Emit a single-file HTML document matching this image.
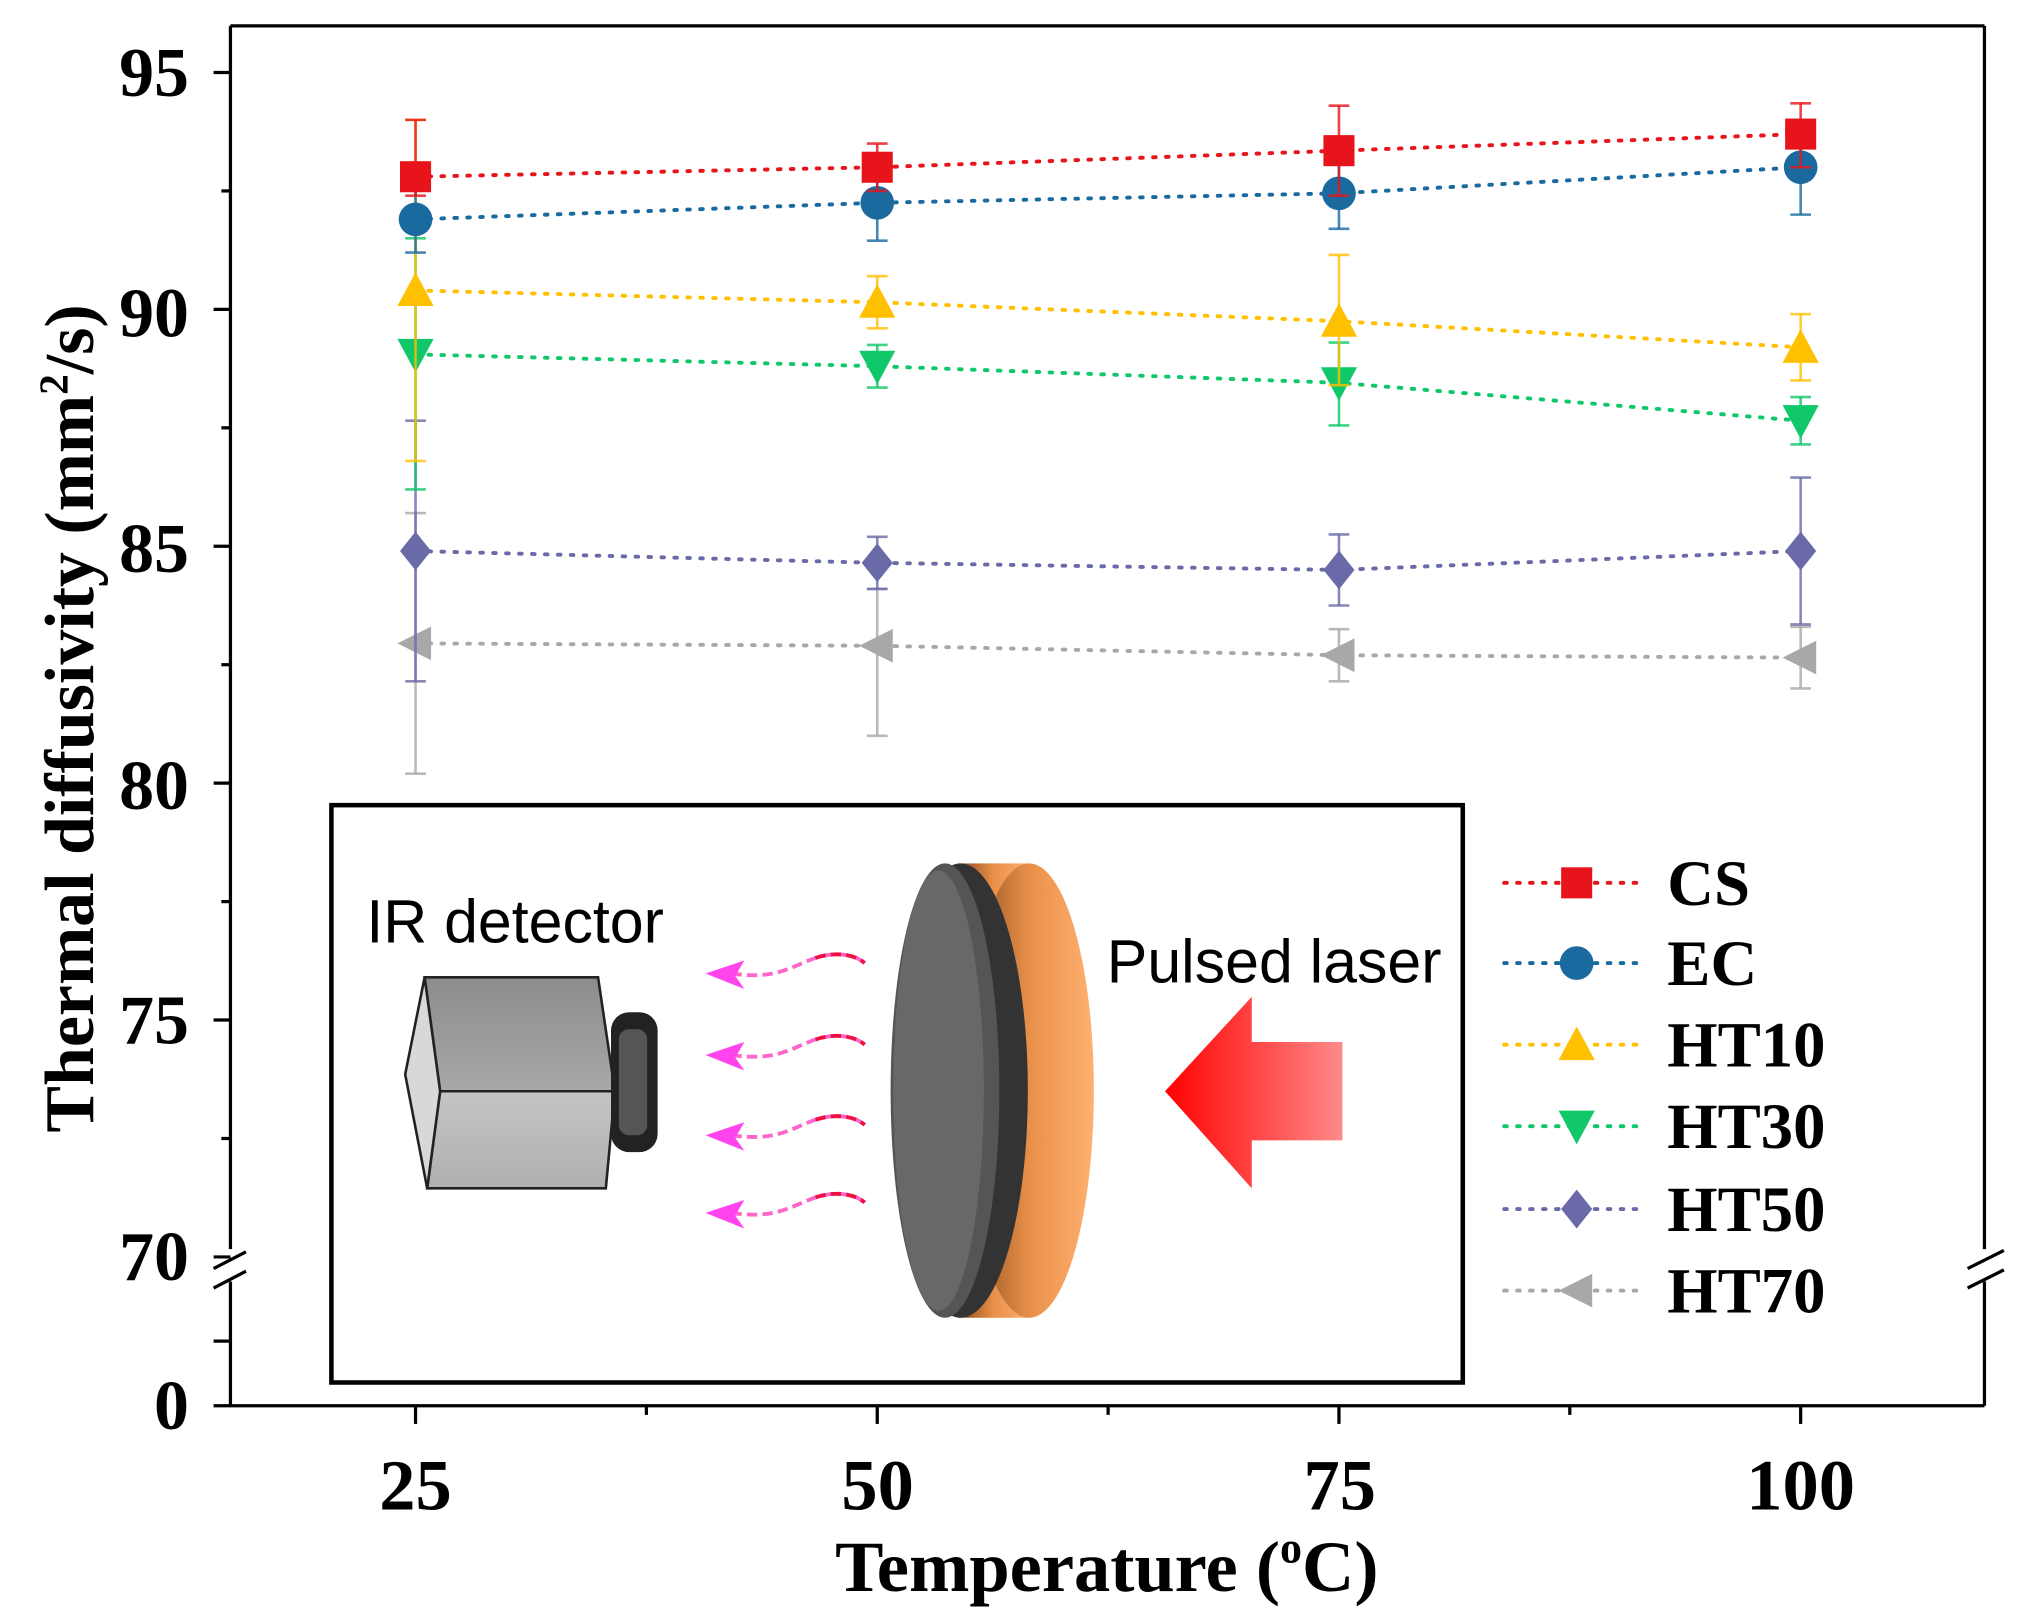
<!DOCTYPE html>
<html><head><meta charset="utf-8"><style>
html,body{margin:0;padding:0;background:#fff;width:2022px;height:1619px;overflow:hidden}
svg text{font-family:"Liberation Serif",serif;font-weight:bold}
</style></head><body>
<svg id="s" width="2022" height="1619" viewBox="0 0 1562 1250.7" xmlns="http://www.w3.org/2000/svg">
<defs>
<linearGradient id="arr" x1="0" x2="1" y1="0" y2="0"><stop offset="0" stop-color="#ff0000"/><stop offset="1" stop-color="#ff8a8a"/></linearGradient>
<linearGradient id="rim" x1="0" x2="1"><stop offset="0" stop-color="#8a4a1a"/><stop offset="0.5" stop-color="#e8904a"/><stop offset="1" stop-color="#ffb070"/></linearGradient>
<linearGradient id="cam1" x1="0" x2="0" y1="0" y2="1"><stop offset="0" stop-color="#8c8c8c"/><stop offset="1" stop-color="#a8a8a8"/></linearGradient>
<linearGradient id="cam2" x1="0" x2="0" y1="0" y2="1"><stop offset="0" stop-color="#c4c4c4"/><stop offset="1" stop-color="#b0b0b0"/></linearGradient>
</defs>
<g id="g"></g>
<rect x="256" y="622" width="874" height="446" fill="#fff" stroke="#000" stroke-width="3.5"/>
<text x="283" y="728" font-size="47" style="font-family:'Liberation Sans',sans-serif;font-weight:normal">IR detector</text>
<text x="855" y="759" font-size="47" style="font-family:'Liberation Sans',sans-serif;font-weight:normal">Pulsed laser</text>
<polygon points="328,755 462,755 475,843 340,843" fill="url(#cam1)" stroke="#222" stroke-width="2"/>
<polygon points="340,843 475,843 468,918 330,918" fill="url(#cam2)" stroke="#222" stroke-width="2"/>
<polygon points="328,755 340,843 330,918 313,830" fill="#d8d8d8" stroke="#222" stroke-width="2"/>
<rect x="472" y="782" width="36" height="108" rx="14" fill="#222"/>
<rect x="478" y="795" width="22" height="82" rx="8" fill="#555"/>
<g id="waves"></g>
<rect x="740" y="667" width="55" height="351" fill="url(#rim)"/>
<ellipse cx="795" cy="842.5" rx="50" ry="175.5" fill="url(#rim)"/>
<ellipse cx="742" cy="842.5" rx="52" ry="175.5" fill="#333"/>
<ellipse cx="730" cy="842.5" rx="42" ry="175.5" fill="#555"/>
<ellipse cx="725" cy="842.5" rx="35" ry="170" fill="#686868"/>
<polygon points="900,843 967,770 967,805 1037,805 1037,881 967,881 967,918" fill="url(#arr)"/>
<g stroke="#000" stroke-width="2.5" fill="none">
<line x1="178" y1="20" x2="1533" y2="20"/>
<line x1="178" y1="20" x2="178" y2="965"/>
<line x1="178" y1="990" x2="178" y2="1086"/>
<line x1="1533" y1="20" x2="1533" y2="965"/>
<line x1="1533" y1="990" x2="1533" y2="1086"/>
<line x1="165" y1="1086" x2="1533" y2="1086"/>
<line x1="165" y1="980" x2="190" y2="967"/><line x1="165" y1="995" x2="190" y2="982"/>
<line x1="1520" y1="980" x2="1548" y2="966"/><line x1="1520" y1="995" x2="1548" y2="981"/>
<line x1="165" y1="1036" x2="178" y2="1036"/>
</g>
<g font-size="54" text-anchor="end">
<text x="146" y="74">95</text><text x="146" y="260">90</text><text x="146" y="442">85</text>
<text x="146" y="625">80</text><text x="146" y="806">75</text><text x="146" y="989">70</text><text x="146" y="1104">0</text>
</g>
<g font-size="56" text-anchor="middle">
<text x="321" y="1166">25</text><text x="678" y="1166">50</text><text x="1035" y="1166">75</text><text x="1391" y="1166">100</text>
</g>
<text x="855" y="1229" font-size="56" text-anchor="middle">Temperature (<tspan font-size="34" dy="-22">o</tspan><tspan dy="22">C)</tspan></text>
<text transform="translate(72,555) rotate(-90)" font-size="54" text-anchor="middle">Thermal diffusivity (mm<tspan font-size="32" dy="-20">2</tspan><tspan dy="20">/s)</tspan></text>
<g font-size="50">
<text x="1288" y="699">CS</text><text x="1288" y="761">EC</text><text x="1288" y="824">HT10</text>
<text x="1288" y="887">HT30</text><text x="1288" y="951">HT50</text><text x="1288" y="1014">HT70</text>
</g>
</svg>
<script>
const NS="http://www.w3.org/2000/svg",g=document.getElementById('g'),svg=document.getElementById('s');
function el(t,a,p){const e=document.createElementNS(NS,t);for(const k in a)e.setAttribute(k,a[k]);(p||g).appendChild(e);return e;}
const X=T=>321+(T-25)*14.267, Y=v=>56+(95-v)*36.6;
[95,90,85,80,75,70].forEach(v=>el('line',{x1:165,x2:178,y1:Y(v),y2:Y(v),stroke:'#000','stroke-width':2.5}));
[92.5,87.5,82.5,77.5,72.5].forEach(v=>el('line',{x1:171,x2:178,y1:Y(v),y2:Y(v),stroke:'#000','stroke-width':2.5}));
[25,50,75,100].forEach(t=>el('line',{x1:X(t),x2:X(t),y1:1086,y2:1100,stroke:'#000','stroke-width':2.5}));
[37.5,62.5,87.5].forEach(t=>el('line',{x1:X(t),x2:X(t),y1:1086,y2:1093,stroke:'#000','stroke-width':2.5}));
const S=[
 ['#e8141b','sq',[[92.8,94.0,92.4],[93.0,93.5,92.5],[93.35,94.3,92.4],[93.7,94.35,93.0]]],
 ['#1a6aa0','ci',[[91.9,92.6,91.2],[92.25,93.05,91.45],[92.45,93.25,91.7],[93.0,94.0,92.0]]],
 ['#ffc000','up',[[90.4,94.0,86.8],[90.15,90.7,89.6],[89.75,91.15,88.4],[89.2,89.9,88.5]]],
 ['#10c86a','dn',[[89.05,91.5,86.2],[88.8,89.25,88.35],[88.45,89.3,87.55],[87.65,88.15,87.15]]],
 ['#6a6aa8','di',[[84.9,87.65,82.15],[84.65,85.2,84.1],[84.5,85.25,83.75],[84.9,86.45,83.35]]],
 ['#a8a8a8','le',[[82.95,85.7,80.2],[82.9,84.1,81.0],[82.7,83.25,82.15],[82.65,83.3,82.0]]]];
const T=[25,50,75,100];
function mk(type,x,y,c,p){const r=12;
 if(type=='sq')el('rect',{x:x-r,y:y-r,width:2*r,height:2*r,fill:c},p);
 if(type=='ci')el('circle',{cx:x,cy:y,r:r+1,fill:c},p);
 if(type=='up')el('polygon',{points:`${x},${y-r-2} ${x+r+2},${y+r} ${x-r-2},${y+r}`,fill:c},p);
 if(type=='dn')el('polygon',{points:`${x},${y+r+2} ${x+r+2},${y-r} ${x-r-2},${y-r}`,fill:c},p);
 if(type=='di')el('polygon',{points:`${x},${y-r-3} ${x+r},${y} ${x},${y+r+3} ${x-r},${y}`,fill:c},p);
 if(type=='le')el('polygon',{points:`${x-r-2},${y} ${x+r},${y-r-1} ${x+r},${y+r+1}`,fill:c},p);}
S.slice().reverse().forEach(([c,m,d])=>{
 d.forEach((p,i)=>{const x=X(T[i]);
  el('line',{x1:x,x2:x,y1:Y(p[1]),y2:Y(p[2]),stroke:c,'stroke-width':2,opacity:.8});
  el('line',{x1:x-8,x2:x+8,y1:Y(p[1]),y2:Y(p[1]),stroke:c,'stroke-width':2,opacity:.8});
  el('line',{x1:x-8,x2:x+8,y1:Y(p[2]),y2:Y(p[2]),stroke:c,'stroke-width':2,opacity:.8});});
 el('polyline',{points:d.map((p,i)=>X(T[i])+','+Y(p[0])).join(' '),fill:'none',stroke:c,'stroke-width':3,'stroke-dasharray':'2 8','stroke-linecap':'round'});
 d.forEach((p,i)=>mk(m,X(T[i]),Y(p[0]),c));
});
const ly=[682,744,807,870,934,997];
S.forEach(([c,m],i)=>{el('line',{x1:1162,x2:1265,y1:ly[i],y2:ly[i],stroke:c,'stroke-width':3,'stroke-dasharray':'2 8','stroke-linecap':'round'},svg);mk(m,1218,ly[i],c,svg);});
const w=document.getElementById('waves');
[752,815,877,937].forEach(y=>{
 el('path',{d:`M565,${y} C600,${y+5} 610,${y-5} 630,${y-12} C645,${y-17} 660,${y-15} 668,${y-8}`,fill:'none',stroke:'#ff66cc','stroke-width':3,'stroke-dasharray':'8 4'},w);
 el('path',{d:`M630,${y-12} C645,${y-17} 660,${y-15} 668,${y-8}`,fill:'none',stroke:'#ee1144','stroke-width':3,'stroke-dasharray':'8 4'},w);
 el('polygon',{points:`545,${y} 575,${y-10} 568,${y+2} 575,${y+12}`,fill:'#ff44ee'},w);});
</script>
</body></html>
